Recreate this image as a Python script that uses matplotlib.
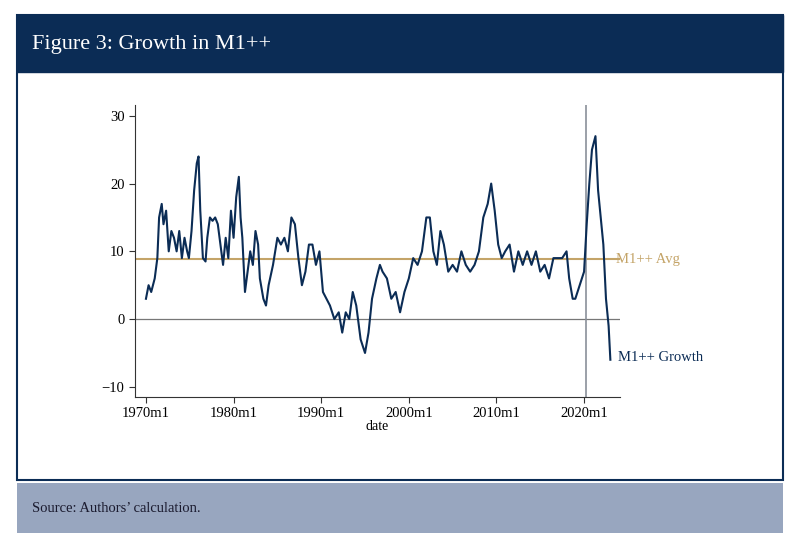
import matplotlib
matplotlib.use("Agg")
import matplotlib.pyplot as plt
from matplotlib.patches import Rectangle

years = [1970.0,1970.3,1970.6,1971.0,1971.3,1971.5,1971.8,1972.0,1972.3,1972.6,1972.9,1973.2,1973.5,1973.8,1974.1,1974.4,1974.7,1974.9,1975.2,1975.5,1975.8,1976.0,1976.2,1976.5,1976.8,1977.0,1977.3,1977.6,1977.9,1978.2,1978.5,1978.8,1979.1,1979.4,1979.7,1980.0,1980.3,1980.6,1980.8,1981.0,1981.3,1981.6,1981.9,1982.2,1982.5,1982.8,1983.0,1983.4,1983.7,1984.0,1984.5,1985.0,1985.4,1985.8,1986.2,1986.6,1987.0,1987.4,1987.8,1988.2,1988.6,1989.0,1989.4,1989.8,1990.2,1990.6,1991.0,1991.5,1992.0,1992.4,1992.8,1993.2,1993.6,1994.0,1994.5,1995.0,1995.4,1995.8,1996.3,1996.7,1997.0,1997.5,1998.0,1998.5,1999.0,1999.5,2000.0,2000.5,2001.0,2001.5,2002.0,2002.4,2002.8,2003.2,2003.6,2004.0,2004.5,2005.0,2005.5,2006.0,2006.5,2007.0,2007.5,2008.0,2008.5,2009.0,2009.4,2009.8,2010.2,2010.6,2011.0,2011.5,2012.0,2012.5,2013.0,2013.5,2014.0,2014.5,2015.0,2015.5,2016.0,2016.5,2017.0,2017.5,2018.0,2018.3,2018.7,2019.0,2019.5,2020.0,2020.3,2020.6,2020.9,2021.1,2021.3,2021.6,2021.9,2022.2,2022.5,2022.8,2023.0]
growth = [3,5,4,6,9,15,17,14,16,10,13,12,10,13,9,12,10,9,13,19,23,24,16,9,8.5,12,15,14.5,15,14,11,8,12,9,16,12,18,21,15,12,4,7,10,8,13,11,6,3,2,5,8,12,11,12,10,15,14,9,5,7,11,11,8,10,4,3,2,0,1,-2,1,0,4,2,-3,-5,-2,3,6,8,7,6,3,4,1,4,6,9,8,10,15,15,10,8,13,11,7,8,7,10,8,7,8,10,15,17,20,16,11,9,10,11,7,10,8,10,8,10,7,8,6,9,9,9,10,6,3,3,5,7,14,20,25,26,27,19,15,11,3,-1,-6]
avg = 8.8
vline_year = 2020.2
xticks = [1970,1980,1990,2000,2010,2020]
xticklabels = ["1970m1","1980m1","1990m1","2000m1","2010m1","2020m1"]
yticks = [-10,0,10,20,30]

navy = "#0b2c55"
gold = "#c4a468"
serif = ["Liberation Serif", "DejaVu Serif"]

fig = plt.figure(figsize=(8,5.56), dpi=100)
W, H = 800, 556
def rect(x0,y0,x1,y1,**kw):
    fig.patches.append(Rectangle((x0/W,1-y1/H),(x1-x0)/W,(y1-y0)/H,transform=fig.transFigure,zorder=-10,**kw))
rect(17,15,783,480,facecolor="white",edgecolor=navy,linewidth=1.5)
rect(17,15,783,72,facecolor=navy,edgecolor=navy)
rect(17,483,783,533,facecolor="#98a6bf",edgecolor="none")
fig.text(32/W,1-44/H,"Figure 3: Growth in M1++",color="white",fontsize=16,family=serif,va="center")
fig.text(32/W,1-508/H,"Source: Authors\u2019 calculation.",color="#1a1a2e",fontsize=10.5,family=serif,va="center")

ax = fig.add_axes([135/W,1-397/H,(620-135)/W,(397-105)/H])
ax.set_facecolor("none")
ax.set_xlim(1968.75,2024.1)
ax.set_ylim(-11.5,31.6)
ax.axhline(0,color="#777777",linewidth=0.9)
ax.axhline(avg,color=gold,linewidth=1.5)
ax.axvline(vline_year,color="#8a9099",linewidth=1.2)
ax.plot(years,growth,color=navy,linewidth=1.5)
ax.set_xticks(xticks); ax.set_xticklabels(xticklabels)
ax.set_yticks(yticks)
for s in ["top","right"]: ax.spines[s].set_visible(False)
for s in ["left","bottom"]: ax.spines[s].set_color("#333333")
ax.tick_params(labelsize=10.5, length=4, color="#333333")
for t in ax.get_xticklabels()+ax.get_yticklabels(): t.set_family(serif)
ax.set_xlabel("date",family=serif,fontsize=10,labelpad=0)
ax.text(2023.6,avg,"M1++ Avg",color=gold,family=serif,fontsize=10.5,va="center",clip_on=False)
ax.text(2023.9,-5.6,"M1++ Growth",color=navy,family=serif,fontsize=10.5,va="center",clip_on=False)
fig.savefig("out.png",dpi=100)
